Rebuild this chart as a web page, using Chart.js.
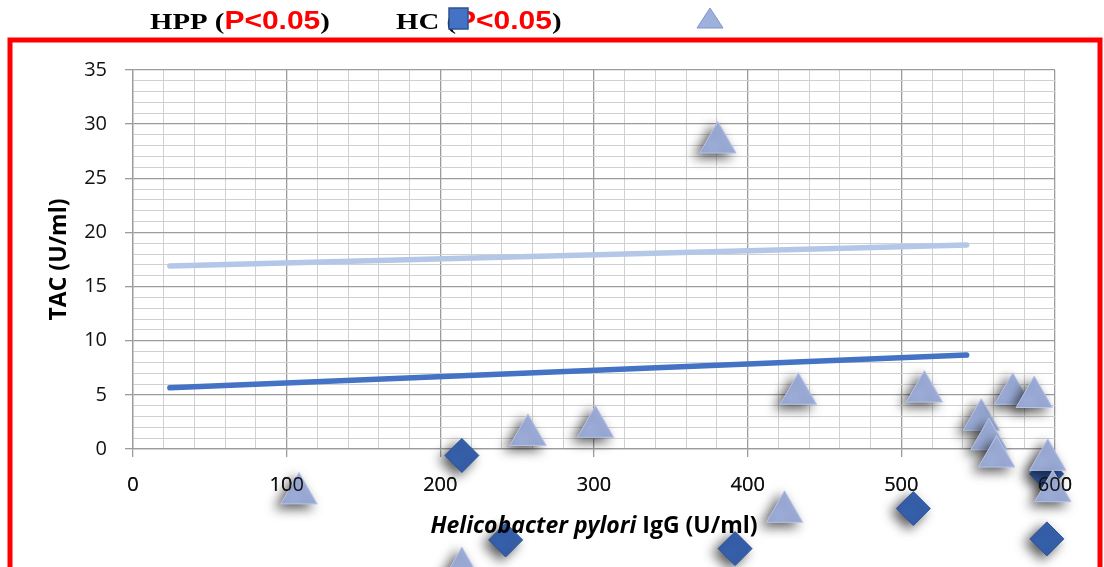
<!DOCTYPE html>
<html>
<head>
<meta charset="utf-8">
<script src="https://cdn.jsdelivr.net/npm/chart.js@4.4.1/dist/chart.umd.min.js"></script>
<style>
    html, body { margin: 0; padding: 0; background: #fff; }
    #wrap { position: relative; width: 1104px; height: 567px; }
</style>
</head>
<body>
<div id="wrap"><canvas id="myChart" width="1104" height="567"></canvas></div>
<script>
// triangles (light)
const hppIgG = [380.6, 108, 214, 257, 301, 424, 433, 515, 552, 557, 562, 572.5, 586.5, 595.3, 598.6];
const hppTac = [28.3, -4.1, -11.0, 1.3, 2.05, -5.8, 5.1, 5.3, 2.7, 0.9, -0.7, 5.1, 4.8, -1.0, -3.9];
// diamonds (dark)
const hcIgG = [214, 242.5, 391.8, 507.8, 594.5, 594.7];
const hcTac = [-0.6, -8.4, -9.2, -5.5, -2.3, -8.3];
// trend lines
const trendIgG = [24, 542.5];
const hppTrend = [16.9, 18.84];
const hcTrend = [5.65, 8.68];

const xTicks = [0, 100, 200, 300, 400, 500, 600];
const yTicks = [0, 5, 10, 15, 20, 25, 30, 35];

const toPoints = (xs, ys) => xs.map((x, i) => ({x: x, y: ys[i]}));

const majorGrid = '#9c9c9c';
const minorGrid = '#d0d0d0';

let savedArea = null;

const shadowPlugin = {
    id: 'markerShadow',
    beforeDatasetDraw(chart, args) {
        if (!chart.data.datasets[args.index].shadow) return;
        // markers spill below the plot, so let them be drawn anywhere on the canvas
        savedArea = chart.chartArea;
        chart.chartArea = {left: -100, top: -100, right: chart.width + 100, bottom: chart.height + 100,
            width: chart.width + 200, height: chart.height + 200};
        const ctx = chart.ctx;
        ctx.save();
        ctx.shadowColor = 'rgba(0,0,0,0.65)';
        ctx.shadowBlur = 12;
        ctx.shadowOffsetX = -5;
        ctx.shadowOffsetY = 4;
    },
    afterDatasetDraw(chart, args) {
        if (!chart.data.datasets[args.index].shadow) return;
        chart.ctx.restore();
        chart.chartArea = savedArea;
    },
    afterDatasetsDraw(chart) {
        // tick labels sit on top of the markers in the original
        chart.scales.x.drawLabels(chart.chartArea);
    }
};

function drawPieces(ctx, x, y, pieces, stretch) {
    ctx.save();
    ctx.translate(x, y);
    ctx.scale(stretch, 1);
    ctx.textBaseline = 'alphabetic';
    let cx = 0;
    pieces.forEach((p) => {
        ctx.font = p.font;
        ctx.fillStyle = p.color;
        ctx.fillText(p.text, cx, 0);
        cx += ctx.measureText(p.text).width;
    });
    ctx.restore();
}

const decorPlugin = {
    id: 'decor',
    beforeDraw(chart) {
        const ctx = chart.ctx;
        ctx.save();
        ctx.fillStyle = '#fff';
        ctx.fillRect(0, 0, chart.width, chart.height);
        ctx.restore();
    },
    afterDraw(chart) {
        const ctx = chart.ctx;
        ctx.save();
        // red frame
        ctx.strokeStyle = '#ff0000';
        ctx.lineWidth = 5;
        ctx.strokeRect(10, 40, 1090, 600);

        // legend
        const serif = 'bold 24px "Liberation Serif", "Times New Roman", serif';
        const sans = 'bold 25px "Liberation Sans", Arial, sans-serif';
        drawPieces(ctx, 150, 29, [
            {text: 'HPP (', font: serif, color: '#000'},
            {text: 'P<0.05', font: sans, color: '#ff0000'},
            {text: ')', font: serif, color: '#000'}
        ], 1.2);
        drawPieces(ctx, 396, 29, [
            {text: 'HC (', font: serif, color: '#000'},
            {text: 'P<0.05', font: sans, color: '#ff0000'},
            {text: ')', font: serif, color: '#000'}
        ], 1.2);
        ctx.fillStyle = '#4472c4';
        ctx.strokeStyle = '#2f528f';
        ctx.lineWidth = 1.5;
        ctx.fillRect(449, 8, 19, 21);
        ctx.strokeRect(449, 8, 19, 21);
        ctx.beginPath();
        ctx.moveTo(710, 8);
        ctx.lineTo(723, 28);
        ctx.lineTo(697, 28);
        ctx.closePath();
        ctx.fillStyle = '#9eb0dc';
        ctx.fill();
        ctx.strokeStyle = '#7f95cc';
        ctx.lineWidth = 1;
        ctx.stroke();

        // x axis title, part italic
        const it = 'italic bold 23px "Open Sans", sans-serif';
        const bd = 'bold 23px "Open Sans", sans-serif';
        ctx.font = it;
        let w = ctx.measureText('Helicobacter pylori').width;
        ctx.font = bd;
        w += ctx.measureText(' IgG (U/ml)').width;
        drawPieces(ctx, 594 - w / 2, 533, [
            {text: 'Helicobacter pylori', font: it, color: '#000'},
            {text: ' IgG (U/ml)', font: bd, color: '#000'}
        ], 1);
        ctx.restore();
    }
};

const data = {
    datasets: [
        {
            data: toPoints(hppIgG, hppTac),
            shadow: true,
            order: 1,
            clip: false,
            pointStyle: 'triangle',
            pointRadius: 21,
            pointHoverRadius: 21,
            pointBackgroundColor: '#9fb0dc',
            pointBorderColor: '#b8c5e9',
            pointBorderWidth: 1
        },
        {
            data: toPoints(hcIgG, hcTac),
            shadow: true,
            order: 2,
            clip: false,
            pointStyle: 'rectRot',
            pointRadius: 17,
            pointHoverRadius: 17,
            pointBackgroundColor: '#3761ad',
            pointBorderColor: '#2d5199',
            pointBorderWidth: 1
        },
        {
            data: toPoints(trendIgG, hppTrend),
            order: 3,
            showLine: true,
            borderColor: '#b4c7e7',
            borderWidth: 5.5,
            borderCapStyle: 'round',
            pointRadius: 0
        },
        {
            data: toPoints(trendIgG, hcTrend),
            order: 4,
            showLine: true,
            borderColor: '#4472c4',
            borderWidth: 5.5,
            borderCapStyle: 'round',
            pointRadius: 0
        }
    ]
};

const options = {
    responsive: false,
    animation: false,
    layout: {
        padding: {top: 70, right: 49, left: 0, bottom: 0}
    },
    plugins: {
        legend: {display: false},
        tooltip: {enabled: false}
    },
    scales: {
        x: {
            type: 'linear',
            min: 0,
            max: 600,
            afterFit: (scale) => { scale.height = 118 },
            grid: {
                color: (c) => c.tick && c.tick.value % 100 === 0 ? majorGrid : minorGrid,
                tickColor: (c) => c.tick && c.tick.value % 100 === 0 ? majorGrid : 'rgba(0,0,0,0)',
                tickLength: 8,
                lineWidth: (c) => c.tick && c.tick.value % 100 === 0 ? 1.3 : 1
            },
            border: {color: majorGrid, width: 1.3},
            ticks: {
                stepSize: 20,
                autoSkip: false,
                maxRotation: 0,
                padding: 16,
                color: '#111',
                font: {family: '"Open Sans", sans-serif', size: 20},
                callback: (val) => xTicks.includes(val) ? String(val) : ''
            }
        },
        y: {
            type: 'linear',
            min: 0,
            max: 35,
            afterFit: (scale) => { scale.width = 133 },
            grid: {
                color: (c) => c.tick && c.tick.value % 5 === 0 ? majorGrid : minorGrid,
                tickColor: (c) => c.tick && c.tick.value % 5 === 0 ? majorGrid : 'rgba(0,0,0,0)',
                tickLength: 8,
                lineWidth: (c) => c.tick && c.tick.value % 5 === 0 ? 1.3 : 1
            },
            border: {color: majorGrid, width: 1.3},
            ticks: {
                stepSize: 1,
                autoSkip: false,
                padding: 18,
                color: '#111',
                font: {family: '"Open Sans", sans-serif', size: 20},
                callback: (val) => yTicks.includes(val) ? String(val) : ''
            },
            title: {
                display: true,
                text: 'TAC (U/ml)',
                color: '#000',
                font: {family: '"Open Sans", sans-serif', size: 23, weight: 'bold'},
                padding: {top: 46, bottom: 0}
            }
        }
    }
};

new Chart(document.getElementById('myChart'), {
    type: 'scatter',
    data: data,
    options: options,
    plugins: [decorPlugin, shadowPlugin]
});
</script>
</body>
</html>
